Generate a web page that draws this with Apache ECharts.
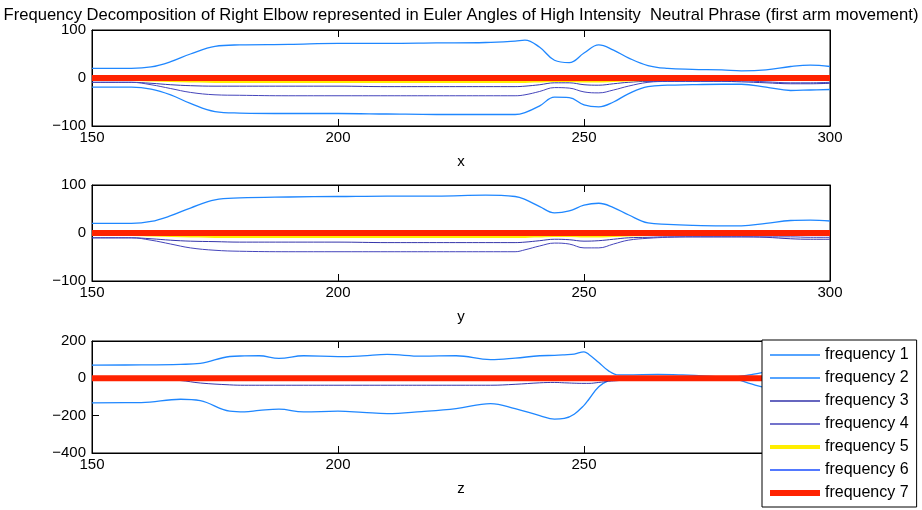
<!DOCTYPE html>
<html><head><meta charset="utf-8">
<script src="https://cdn.jsdelivr.net/npm/echarts@6/dist/echarts.min.js"></script>
<style>html,body{margin:0;padding:0;background:#fff}#c{width:922px;height:510px}</style>
</head><body><div id="c"></div>
<script>
const titleText = 'Frequency Decomposition of Right Elbow represented in Euler Angles of High Intensity  Neutral Phrase (first arm movement)';
const seriesNames = ['frequency 1','frequency 2','frequency 3','frequency 4','frequency 5','frequency 6','frequency 7'];
const axisNames = ['x','y','z'];
const xTicks = [150, 200, 250, 300];
const yTicksX = [-100, 0, 100];
const yTicksY = [-100, 0, 100];
const yTicksZ = [-400, -200, 0, 200];

// sample positions
const xGridXY = [150,158,162,166,170,175,180,190,200,210,220,230,236,238,241,244,247,250,253,256,259,263,267,272,278,282,287,292,296,300];
const xGridZ  = [150,160,168,172,178,181,184,188,193,200,205,210,217,224,231,236,241,244,246,248,250,251,253,255,257,260,265,270,275,278,281,284,287,292,296,300];

// subplot x
const f1_x = [20,20,23,34,50,66,69,70,72,72,73,74,77,79,64,37,32,52,69,58,42,26,20,18,17,15,17,24,27,24];
const f2_x = [-19,-19,-23,-35,-53,-70,-73,-74,-74,-75,-76,-76,-76,-72,-58,-40,-41,-56,-60,-50,-33,-18,-15,-14,-13,-13,-19,-26,-25,-24];
const f3_x = [-9,-9,-11,-14,-16,-17,-17,-17,-17,-18,-18,-18,-18,-17,-14,-10,-10,-14,-15,-12,-9,-7,-7,-7,-7,-8,-10,-12,-12,-11];
const f4_x = [-9,-9,-14,-22,-30,-35,-36,-37,-37,-37,-37,-37,-37,-35,-28,-20,-21,-29,-31,-25,-17,-9,-7,-6,-6,-6,-8,-10,-10,-9];
const f5_x = [-2,-2,-3,-4,-5,-6,-6,-6,-6,-6,-6,-6,-6,-6,-5,-4,-4,-5,-5,-4,-3,-2,-1,-1,-1,-1,-1,-1,-1,-1];
const f6_x = [1,1,1,1,0,0,0,0,0,0,0,0,0,0,0,1,1,0,0,0,1,1,1,1,1,1,1,1,1,1];
const f7_x = [0,0,0,0,0,0,0,0,0,0,0,0,0,0,0,0,0,0,0,0,0,0,0,0,0,0,0,0,0,0];

// subplot y
const f1_y = [20,20,24,36,52,69,73,75,76,77,77,79,76,70,55,42,46,58,62,53,38,21,18,16,15,15,20,26,27,25];
const f2_y = [2,2,2,2,2,2,2,2,2,2,2,2,2,2,2,1,1,1,1,1,1,1,1,1,1,1,1,1,1,1];
const f3_y = [-10,-10,-12,-15,-17,-18,-19,-19,-19,-20,-20,-20,-20,-19,-16,-13,-14,-17,-16,-13,-10,-9,-8,-8,-8,-8,-9,-12,-13,-13];
const f4_y = [-10,-10,-15,-23,-31,-36,-38,-39,-39,-39,-39,-39,-39,-35,-27,-21,-23,-31,-31,-23,-15,-11,-9,-8,-8,-8,-8,-8,-9,-9];
const f5_y = [-2,-2,-3,-4,-5,-6,-6,-6,-6,-6,-6,-6,-6,-6,-5,-4,-4,-5,-5,-4,-3,-2,-1,-1,-1,-1,-1,-1,-1,-1];
const f6_y = [0,0,0,0,0,0,0,0,0,0,0,0,0,0,0,0,0,0,0,0,0,0,0,0,0,0,0,0,0,0];
const f7_y = [0,0,0,0,0,0,0,0,0,0,0,0,0,0,0,0,0,0,0,0,0,0,0,0,0,0,0,0,0,0];

// subplot z
const f1_z = [71,72,75,80,117,120,121,107,121,116,120,128,119,121,100,108,121,123,126,130,142,128,85,40,18,19,21,18,12,6,-5,-30,-50,-62,-68,-70];
const f2_z = [-131,-130,-112,-120,-176,-180,-172,-165,-180,-176,-182,-189,-178,-162,-135,-162,-200,-219,-215,-192,-145,-112,-45,-12,-2,3,6,8,5,3,8,20,33,40,42,40];
const f3_z = [0,-2,-12,-25,-35,-37,-37,-37,-37,-37,-37,-37,-37,-37,-37,-32,-24,-22,-24,-26,-27,-27,-22,-16,-12,-5,-1,0,0,0,0,0,0,0,0,0];
const f4_z = [1,1,1,1,1,1,1,1,1,1,1,1,1,1,1,1,1,1,1,1,1,1,1,1,1,1,1,1,1,1,1,1,1,1,1,1];
const f5_z = [-3,-3,-3,-3,-4,-4,-4,-4,-4,-4,-4,-4,-4,-4,-4,-4,-4,-4,-4,-4,-4,-4,-3,-3,-2,-2,-1,-1,-1,-1,-1,-1,-1,-1,-1,-1];
const f6_z = [0,0,0,0,0,0,0,0,0,0,0,0,0,0,0,0,0,0,0,0,0,0,0,0,0,0,0,0,0,0,0,0,0,0,0,0];
const f7_z = [0,0,0,0,0,0,0,0,0,0,0,0,0,0,0,0,0,0,0,0,0,0,0,0,0,0,0,0,0,0,0,0,0,0,0,0];

const colors = ['#1f87ff','#1f87ff','#3535aa','#4545bb','#ffee00','#1a4dff','#ff2200'];
const widths = [1.3,1.3,1,1,4,1,6];
const FONT = 'Liberation Sans, Arial, Helvetica, sans-serif';

const subplots = [
  {xs: xGridXY, ys: [f1_x,f2_x,f3_x,f4_x,f5_x,f6_x,f7_x], ticks: yTicksX},
  {xs: xGridXY, ys: [f1_y,f2_y,f3_y,f4_y,f5_y,f6_y,f7_y], ticks: yTicksY},
  {xs: xGridZ,  ys: [f1_z,f2_z,f3_z,f4_z,f5_z,f6_z,f7_z], ticks: yTicksZ}
];
const gridPos = [{top:30,height:96},{top:185,height:96},{top:341,height:112}];

const grid = gridPos.map(g => ({left:92, width:738, top:g.top, height:g.height, show:true, borderColor:'#000', borderWidth:1, backgroundColor:'#fff'}));
const xAxis = [], yAxis = [], series = [];
const minus = v => String(v).replace('-', '\u2212');
subplots.forEach((sp, i) => {
  const tMin = xTicks[0], tMax = xTicks[xTicks.length-1], tInt = xTicks[1]-xTicks[0];
  const yMin = sp.ticks[0], yMax = sp.ticks[sp.ticks.length-1], yInt = sp.ticks[1]-sp.ticks[0];
  xAxis.push({gridIndex:i, type:'value', min:tMin, max:tMax, interval:tInt, position:'bottom',
    name: axisNames[i], nameLocation:'middle', nameGap:28,
    nameTextStyle:{fontSize:15, color:'#000', fontFamily:FONT},
    axisLine:{show:true, onZero:false, lineStyle:{color:'#000', width:1}},
    axisTick:{show:true, inside:true, length:7, lineStyle:{color:'#000'}},
    axisLabel:{color:'#000', fontSize:15, margin:4, fontFamily:FONT},
    splitLine:{show:false}});
  xAxis.push({gridIndex:i, type:'value', min:tMin, max:tMax, interval:tInt, position:'top',
    axisLine:{show:true, onZero:false, lineStyle:{color:'#000', width:1}},
    axisTick:{show:true, inside:true, length:7, lineStyle:{color:'#000'}},
    axisLabel:{show:false}, splitLine:{show:false}});
  yAxis.push({gridIndex:i, type:'value', min:yMin, max:yMax, interval:yInt, position:'left',
    axisLine:{show:true, onZero:false, lineStyle:{color:'#000', width:1}},
    axisTick:{show:true, inside:true, length:7, lineStyle:{color:'#000'}},
    axisLabel:{color:'#000', fontSize:15, margin:6, fontFamily:FONT, formatter:minus},
    splitLine:{show:false}});
  yAxis.push({gridIndex:i, type:'value', min:yMin, max:yMax, interval:yInt, position:'right',
    axisLine:{show:true, onZero:false, lineStyle:{color:'#000', width:1}},
    axisTick:{show:true, inside:true, length:7, lineStyle:{color:'#000'}},
    axisLabel:{show:false}, splitLine:{show:false}});
  sp.ys.forEach((vals, k) => {
    series.push({name: seriesNames[k], type:'line', xAxisIndex: i*2, yAxisIndex: i*2,
      data: sp.xs.map((x, j) => [x, vals[j]]),
      symbol:'none', showSymbol:false, smooth:0.4,
      lineStyle:{color:colors[k], width:widths[k]}, itemStyle:{color:colors[k]},
      z: 2 + k*0.01, silent:true});
  });
});

// legend icons: a horizontal bar of the line's thickness inside a fixed 50x14 box
const LW = 50, LH = 14;
const legendIcon = th => {
  const t = (LH - th) / 2, b = t + th;
  return 'path://M0,0L0.01,0L0,0.01Z M0,' + t + 'L' + LW + ',' + t + 'L' + LW + ',' + b + 'L0,' + b + 'Z M' + LW + ',' + LH + 'L' + (LW-0.01) + ',' + LH + 'L' + LW + ',' + (LH-0.01) + 'Z';
};
const legendData = seriesNames.map((n, k) => ({name:n, icon: legendIcon(Math.max(1.3, widths[k]))}));

const chart = echarts.init(document.getElementById('c'), null, {renderer:'canvas'});
chart.setOption({
  animation:false,
  backgroundColor:'#fff',
  title:{text:titleText, left:'center', top:2, textStyle:{fontSize:16.6, fontWeight:'normal', color:'#000', fontFamily:FONT}},
  legend:{orient:'vertical', left:762, top:340, data:legendData,
    itemWidth:LW, itemHeight:LH, itemGap:7, padding:[7,8,6,8],
    itemStyle:{borderWidth:0},
    backgroundColor:'#fff', borderColor:'#000', borderWidth:1, borderRadius:0,
    textStyle:{fontSize:16, color:'#000', fontFamily:FONT}, z:10},
  grid, xAxis, yAxis, series
});
</script></body></html>
